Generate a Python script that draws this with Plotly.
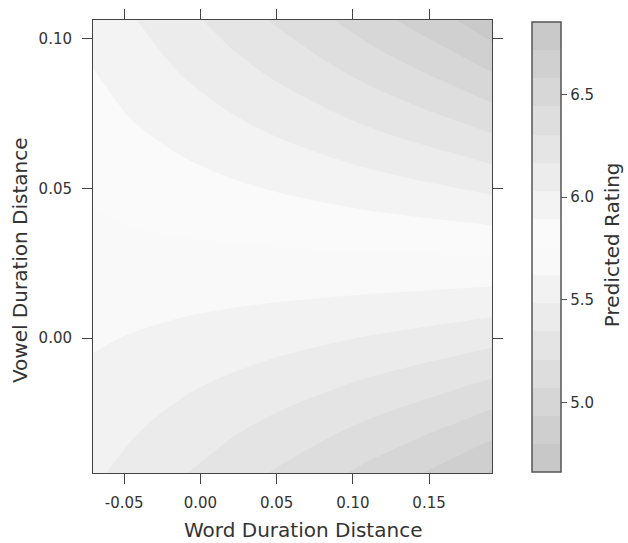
import plotly.graph_objects as go

# Grid (Word Duration Distance on x, Vowel Duration Distance on y)
word_dist = [-0.0705, -0.04, -0.01, 0.02, 0.05, 0.08, 0.11, 0.14, 0.17, 0.1915]
vowel_dist = [-0.0452, -0.03, -0.015, 0.0, 0.015, 0.03, 0.045, 0.06, 0.075, 0.09, 0.1063]

# Predicted rating, one row per vowel distance value
rating = [
    [5.507, 5.430, 5.352, 5.275, 5.197, 5.120, 5.035, 4.953, 4.862, 4.786],
    [5.550, 5.491, 5.431, 5.371, 5.310, 5.250, 5.184, 5.120, 5.049, 4.990],
    [5.594, 5.551, 5.508, 5.465, 5.422, 5.379, 5.331, 5.285, 5.234, 5.191],
    [5.637, 5.612, 5.586, 5.560, 5.533, 5.507, 5.478, 5.450, 5.418, 5.392],
    [5.680, 5.672, 5.663, 5.654, 5.645, 5.636, 5.625, 5.615, 5.603, 5.593],
    [5.723, 5.733, 5.741, 5.749, 5.756, 5.764, 5.772, 5.780, 5.787, 5.794],
    [5.766, 5.793, 5.818, 5.843, 5.868, 5.893, 5.919, 5.945, 5.972, 5.995],
    [5.810, 5.854, 5.896, 5.938, 5.980, 6.021, 6.066, 6.110, 6.156, 6.196],
    [5.853, 5.914, 5.974, 6.032, 6.091, 6.150, 6.213, 6.275, 6.341, 6.397],
    [5.896, 5.974, 6.051, 6.127, 6.203, 6.279, 6.360, 6.440, 6.525, 6.598],
    [5.943, 6.040, 6.135, 6.229, 6.324, 6.418, 6.520, 6.619, 6.726, 6.816],
]

x_ticks = [-0.05, 0.00, 0.05, 0.10, 0.15]
x_ticktext = ["-0.05", "0.00", "0.05", "0.10", "0.15"]
y_ticks = [0.00, 0.05, 0.10]
y_ticktext = ["0.00", "0.05", "0.10"]
cb_ticks = [5.0, 5.5, 6.0, 6.5]
cb_ticktext = ["5.0", "5.5", "6.0", "6.5"]

z_lo, z_hi = 4.665, 6.854
n_bands = 16
band = (z_hi - z_lo) / n_bands

grays = [200, 207, 214, 221, 228, 235, 242, 249, 250, 243, 236, 229, 222, 215, 208, 201]
colorscale = [[i / (n_bands - 1), f"rgb({g},{g},{g})"] for i, g in enumerate(grays)]

FONT = "DejaVu Sans"
TXT = "#333333"

fig = go.Figure(go.Contour(
    x=word_dist, y=vowel_dist, z=rating,
    colorscale=colorscale,
    zmin=z_lo, zmax=z_hi,
    autocontour=False,
    contours=dict(start=z_lo + band, end=z_hi - band * 0.999, size=band,
                  coloring="fill", showlines=False),
    line=dict(width=0),
    colorbar=dict(
        x=1.1003, xanchor="left", xpad=0, ypad=0,
        y=0.5, yanchor="middle", len=0.993, lenmode="fraction",
        thickness=29,
        outlinecolor="#555555", outlinewidth=1.5,
        tickvals=cb_ticks, ticktext=cb_ticktext,
        ticks="outside", ticklen=6, tickcolor="#555555",
        tickfont=dict(family=FONT, size=15, color=TXT),
    ),
    hoverinfo="skip",
))

title_font = dict(family=FONT, size=20, color=TXT)
fig.add_annotation(
    text="Predicted Rating", textangle=-90,
    xref="paper", yref="paper", x=1.3008, y=0.503,
    xanchor="center", yanchor="middle", showarrow=False, font=title_font,
)
fig.add_annotation(
    text="Word Duration Distance",
    xref="paper", yref="paper", x=0.5263, y=-0.1258,
    xanchor="center", yanchor="middle", showarrow=False, font=title_font,
)
fig.add_annotation(
    text="Vowel Duration Distance", textangle=-90,
    xref="paper", yref="paper", x=-0.183, y=0.470,
    xanchor="center", yanchor="middle", showarrow=False, font=title_font,
)

fig.update_layout(
    width=628, height=543,
    margin=dict(l=93, r=136, t=20, b=70, autoexpand=False),
    paper_bgcolor="white", plot_bgcolor="white",
    showlegend=False,
    xaxis=dict(
        range=[-0.0705, 0.1913], tickvals=x_ticks, ticktext=x_ticktext,
        showgrid=False, zeroline=False, automargin=False,
        showline=True, linecolor="#444444", linewidth=1, mirror="ticks",
        ticks="outside", ticklen=10, tickcolor="#444444", tickwidth=1,
        ticklabelstandoff=6,
        tickfont=dict(family=FONT, size=15, color=TXT),
    ),
    yaxis=dict(
        range=[-0.045, 0.1062], tickvals=y_ticks, ticktext=y_ticktext,
        showgrid=False, zeroline=False, automargin=False,
        showline=True, linecolor="#444444", linewidth=1, mirror="ticks",
        ticks="outside", ticklen=10, tickcolor="#444444", tickwidth=1,
        ticklabelstandoff=7,
        tickfont=dict(family=FONT, size=15, color=TXT),
    ),
)

fig.write_html("out.html", config={"displayModeBar": False},
               post_script="document.body.style.margin='0px';")
